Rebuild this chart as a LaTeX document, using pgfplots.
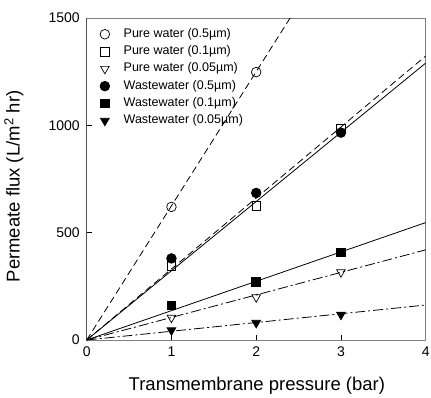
\documentclass[border=0pt]{standalone}
\usepackage{fontspec}
\setmainfont{Liberation Sans}
\usepackage{pgfplots}
\pgfplotsset{compat=1.18}
\begin{document}
\begin{tikzpicture}
\useasboundingbox (-86.7pt,-57pt) rectangle (344.3pt,340pt);
\begin{axis}[
  at={(0pt,0pt)}, anchor=south west,
  scale only axis, width=339pt, height=322pt,
  xmin=0, xmax=4, ymin=0, ymax=1500,
  xtick={0,1,2,3,4}, ytick={0,500,1000,1500},
  tick pos=left, tick align=inside,
  major tick length=5pt,
  tick style={black, line width=0.6pt},
  axis line style={gray, line width=0.8pt},
  /pgf/number format/assume math mode=true,
  /pgf/number format/1000 sep={},
  ticklabel style={font=\fontsize{14}{16}\selectfont},
  xticklabel style={anchor=base, yshift=-16pt},
  yticklabel style={anchor=east, xshift=-3.5pt},
  xlabel={Transmembrane pressure (bar)},
  ylabel={Permeate flux (L/m$^{\mathrm{2}}$ hr)},
  every axis x label/.style={at={(axis description cs:0.502,0)}, anchor=base, yshift=-50pt, font=\fontsize{18.5}{20}\selectfont},
  every axis y label/.style={at={(axis description cs:0,0.477)}, xshift=-72.7pt, anchor=center, rotate=90, font=\fontsize{18.5}{20}\selectfont},
  legend style={at={(axis description cs:0.03,0.975)}, anchor=north west, draw=none, fill=none,
     font=\fontsize{12.5}{14}\selectfont, row sep=5.3pt,
     nodes={inner sep=0pt, text height=9pt, text depth=3pt}},
  legend cell align=left,
  legend image code/.code={\draw[mark repeat=2,mark phase=2,#1] plot coordinates {(0pt,0pt) (6pt,0pt) (12pt,0pt)};},
  every axis plot/.append style={line width=0.8pt},
]
% fitted lines
\addplot[black, dash pattern=on 7pt off 4pt, forget plot] coordinates {(0,0) (2.4,1500)};
\addplot[black, dash pattern=on 7pt off 4pt, forget plot] coordinates {(0,0) (4,1323)};
\addplot[black, dash pattern=on 10pt off 3pt on 2pt off 3pt, forget plot] coordinates {(0,0) (4,420)};
\addplot[black, solid, forget plot] coordinates {(0,0) (4,1290)};
\addplot[black, solid, forget plot] coordinates {(0,0) (4,547)};
\addplot[black, dash pattern=on 10pt off 3pt on 2pt off 3pt, forget plot] coordinates {(0,0) (4,163)};
% data
\addplot[only marks, mark=o, mark size=4.8pt, mark options={black, fill=white, line width=0.7pt}] coordinates {(1,620) (2,1248)};
\addlegendentry{\hspace{14pt}Pure water (0.5µm)}
\addplot[only marks, mark=square, mark size=4.3pt, mark options={black, fill=white, line width=0.7pt}] coordinates {(1,345) (2,624) (3,986)};
\addlegendentry{\hspace{14pt}Pure water (0.1µm)}
\addplot[only marks, mark=triangle, mark size=5pt, mark options={black, fill=white, rotate=180, line width=0.7pt}] coordinates {(1,104) (2,199) (3,316)};
\addlegendentry{\hspace{14pt}Pure water (0.05µm)}
\addplot[only marks, mark=*, mark size=4.8pt, mark options={black, fill=black}] coordinates {(1,380) (2,685) (3,966)};
\addlegendentry{\hspace{14pt}Wastewater (0.5µm)}
\addplot[only marks, mark=square*, mark size=4.3pt, mark options={black, fill=black}] coordinates {(1,162) (2,272) (3,408)};
\addlegendentry{\hspace{14pt}Wastewater (0.1µm)}
\addplot[only marks, mark=triangle*, mark size=5pt, mark options={black, fill=black, rotate=180}] coordinates {(1,45) (2,80) (3,118)};
\addlegendentry{\hspace{14pt}Wastewater (0.05µm)}
\draw[black, line width=0.8pt] (rel axis cs:0,0) -- (rel axis cs:0,1);
\end{axis}
\end{tikzpicture}
\end{document}
